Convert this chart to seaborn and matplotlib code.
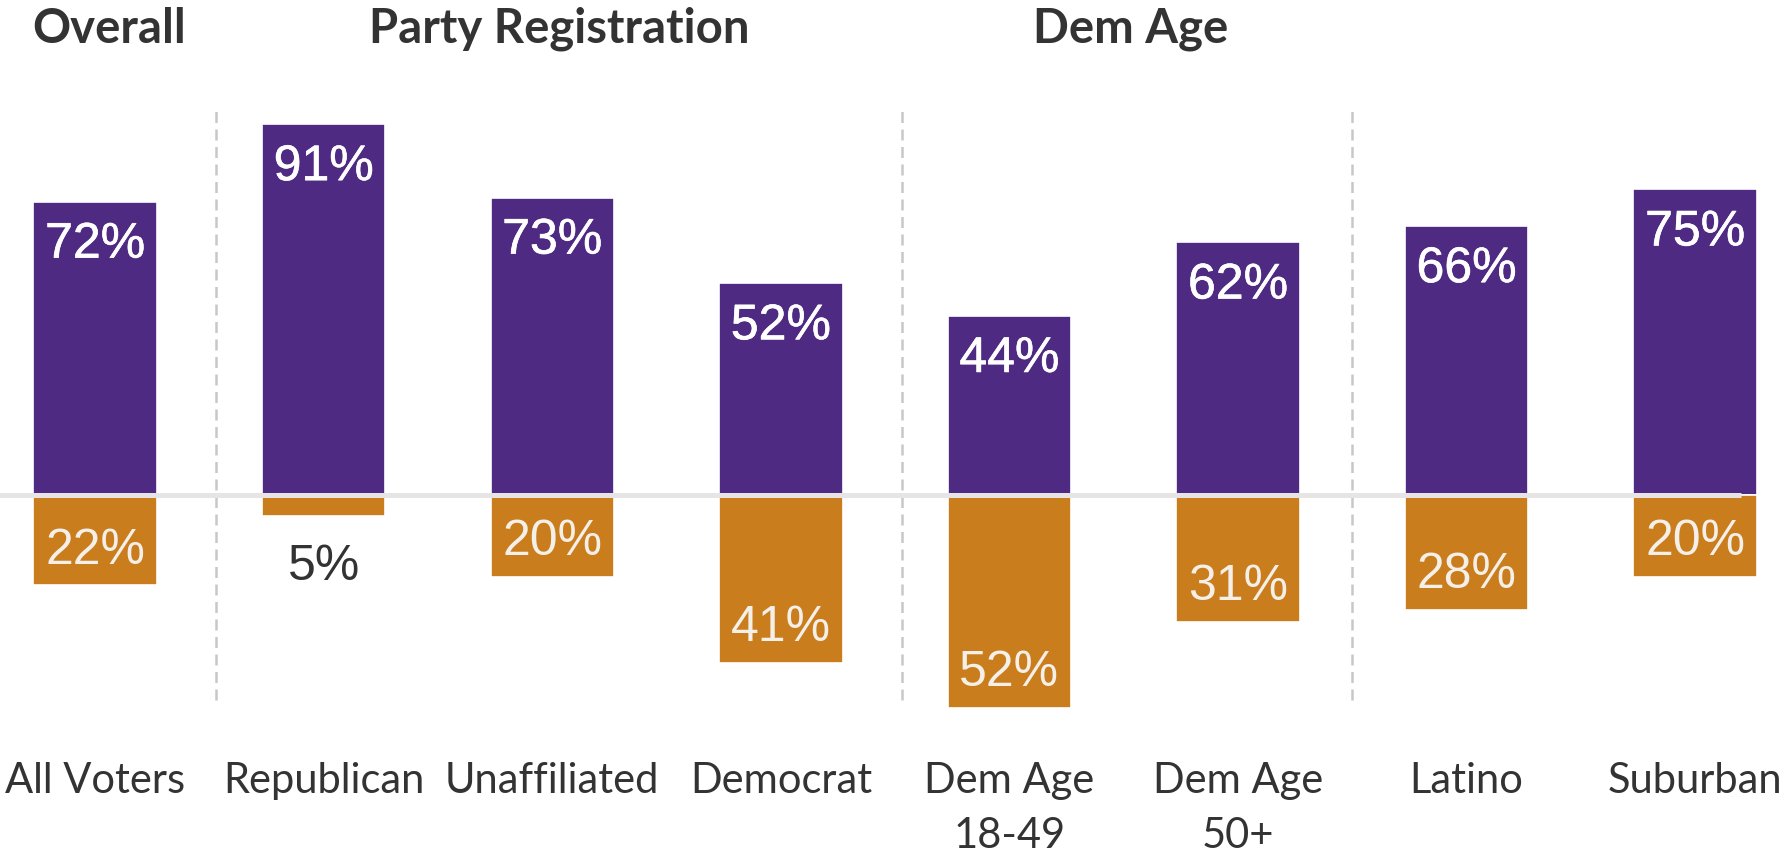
"""Support / oppose bar chart split by voter group"""

import matplotlib.patheffects as pe
import matplotlib.pyplot as plt
import seaborn as sns

categories = ["All Voters", "Republican", "Unaffiliated", "Democrat",
              "Dem Age\n18-49", "Dem Age\n50+", "Latino", "Suburban"]
support = [72, 91, 73, 52, 44, 62, 66, 75]
oppose = [22, 5, 20, 41, 52, 31, 28, 20]

group_titles = ["Overall", "Party Registration", "Dem Age"]
group_centers = [0.06, 2.03, 4.53]
dividers = [0.53, 3.53, 5.5]

PURPLE = "#4f2a82"
ORANGE = "#ca7d1c"
TEXT = "#333333"

sns.set_style("white")
plt.rcParams["font.family"] = ["Lato", "DejaVu Sans"]


def render_plot():
    fig = plt.figure(figsize=(17.85, 8.55), dpi=100)
    ax = fig.add_axes([0, 0, 1, 1])

    # purple bars go up, orange bars go down from the same zero line
    sns.barplot(x=categories, y=support, color=PURPLE, saturation=1,
                width=0.54, errorbar=None, edgecolor="white", linewidth=1.2, ax=ax)
    sns.barplot(x=categories, y=[-v for v in oppose], color=ORANGE, saturation=1,
                width=0.54, errorbar=None, edgecolor="white", linewidth=1.2, ax=ax)

    ax.hlines(0, -0.42, 7.2, color="#e6e4e4", linewidth=3.6, zorder=3)
    ax.vlines(dividers, -50.1, 95.7, color="#c8c8c8", linewidth=1.8,
              linestyles=(0, (4.4, 2.6)), zorder=1)

    bold = [pe.withStroke(linewidth=0.45, foreground="white")]
    for i, (s, o) in enumerate(zip(support, oppose)):
        ax.annotate(f"{s}%", (i, s), xytext=(0, -31), textcoords="offset points",
                    ha="center", va="center", color="white", fontsize=36,
                    family="Liberation Sans", path_effects=bold)
        if o >= 10:
            ax.annotate(f"{o}%", (i, -o), xytext=(0, 25), textcoords="offset points",
                        ha="center", va="center", color="#f4efe8", fontsize=36,
                        family="Liberation Sans")
        else:
            ax.annotate(f"{o}%", (i, -o), xytext=(0, -37), textcoords="offset points",
                        ha="center", va="center", color=TEXT, fontsize=36,
                        family="Liberation Sans")

    for i, label in enumerate(categories):
        for j, line in enumerate(label.split("\n")):
            ax.text(i, -73.0 - 13.4 * j, line, ha="center", va="baseline",
                    fontsize=30, color=TEXT)

    for title, x in zip(group_titles, group_centers):
        ax.text(x, 110.9, title, ha="center", va="baseline", fontsize=34,
                fontweight="bold", color=TEXT)

    ax.set_xlim(-0.416, 7.393)
    ax.set_ylim(-88.1, 121.4)
    ax.set_xticks([])
    ax.set_yticks([])
    sns.despine(ax=ax, left=True, bottom=True)

    fig.savefig("out.png", dpi=100, facecolor="white")
    plt.close(fig)


render_plot()
